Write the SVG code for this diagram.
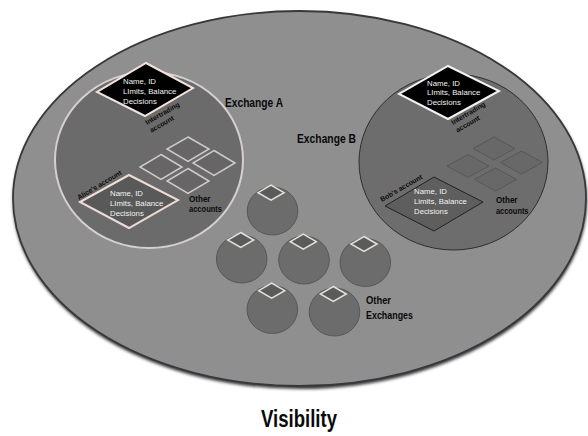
<svg xmlns="http://www.w3.org/2000/svg" width="588" height="436" viewBox="0 0 588 436">
<defs>
<filter id="shadow" x="-5%" y="-5%" width="110%" height="115%"><feGaussianBlur stdDeviation="1.5"/></filter>
<style>
.inner{font-family:"Liberation Sans",Arial,sans-serif;font-size:7.8px;fill:#f2f2f2}
.small{font-family:"Liberation Sans",Arial,sans-serif;font-size:6.9px;font-weight:bold;fill:#0a0a0a}
.lbl{font-family:"Liberation Sans Narrow","Liberation Sans",Arial,sans-serif;font-weight:bold;fill:#0a0a0a}
.acc{fill:#666;stroke:#d2caca;stroke-width:1.5}
.accB{fill:#686868;stroke:#575757;stroke-width:1}
.exc{fill:#6c6c6c;stroke:#4e4e4e;stroke-width:0.8}
.excd{fill:#5a5c5b;stroke:#e6e0dc;stroke-width:1.5}
</style>
</defs>
<g id="world">
<ellipse cx="300" cy="201" rx="287" ry="188" fill="#3a3a3a" filter="url(#shadow)"/>
<ellipse cx="299.5" cy="198.5" rx="286.5" ry="187.5" fill="#8f8f90" stroke="#38383c" stroke-width="1.8"/>
</g>
<g id="exchange-a">
<ellipse cx="149" cy="160" rx="94" ry="88" fill="#6b6b6b" stroke="#d6cfcf" stroke-width="2"/>
<polygon points="188,137 209,149 188,161.5 167,149" class="acc"/>
<polygon points="161,154.5 182,167 161,179.5 140,167" class="acc"/>
<polygon points="214,150.5 235,163 214,175.5 193,163" class="acc"/>
<polygon points="188,168.5 209,181 188,193.5 167,181" class="acc"/>
<text x="225" y="107" class="lbl" font-size="12" textLength="58" lengthAdjust="spacingAndGlyphs">Exchange A</text>
<text x="189" y="201.5" class="lbl" font-size="9.5" textLength="21.5" lengthAdjust="spacingAndGlyphs">Other</text>
<text x="189" y="212" class="lbl" font-size="9.5" textLength="33" lengthAdjust="spacingAndGlyphs">accounts</text>
</g>
<g id="intertrading-a">
<polygon points="146,63 193,88 145,116 97,92" fill="#000" stroke="#f3e3de" stroke-width="2"/>
<text class="inner"><tspan x="123" y="84">Name, ID</tspan><tspan x="123" y="93.8">LImits, Balance</tspan><tspan x="123" y="103.6">Decisions</tspan></text>
<text class="small" transform="translate(147,125) rotate(-30)"><tspan x="0" y="0">Intertrading</tspan><tspan x="0" y="9">account</tspan></text>
</g>
<g id="alice-account">
<polygon points="129,175 178,200 129,228 80,202" fill="#595959" stroke="#f0dcd6" stroke-width="2"/>
<text class="inner"><tspan x="110" y="195.5">Name, ID</tspan><tspan x="110" y="205.5">LImits, Balance</tspan><tspan x="110" y="215.5">Decisions</tspan></text>
<text class="small" transform="translate(79,200) rotate(-31)">Alice's account</text>
</g>
<g id="exchange-b">
<ellipse cx="453.5" cy="162" rx="94.5" ry="88" fill="#6d6d6d" stroke="#2e2e2e" stroke-width="1"/>
<polygon points="494,137 515,148.5 494,160 473,148.5" class="accB"/>
<polygon points="468,154.5 489,166 468,177.5 447,166" class="accB"/>
<polygon points="521.5,151 542.5,162.5 521.5,174 500.5,162.5" class="accB"/>
<polygon points="495.5,168 516.5,179.5 495.5,191 474.5,179.5" class="accB"/>
<text x="297" y="143" class="lbl" font-size="12" textLength="59" lengthAdjust="spacingAndGlyphs">Exchange B</text>
<text x="496" y="203" class="lbl" font-size="9.5" textLength="21.5" lengthAdjust="spacingAndGlyphs">Other</text>
<text x="496" y="213.5" class="lbl" font-size="9.5" textLength="32.5" lengthAdjust="spacingAndGlyphs">accounts</text>
</g>
<g id="intertrading-b">
<polygon points="448,66 499,91 448,119 399,94" fill="#000" stroke="#f2f2f2" stroke-width="2"/>
<text class="inner"><tspan x="427" y="85.5">Name, ID</tspan><tspan x="427" y="95.3">LImits, Balance</tspan><tspan x="427" y="105.1">Decisions</tspan></text>
<text class="small" transform="translate(453,125) rotate(-30.5)"><tspan x="0" y="0">Intertrading</tspan><tspan x="0" y="9">account</tspan></text>
</g>
<g id="bob-account">
<polygon points="434,177 483,202 434,231 385,206" fill="#5e5e5e" stroke="#222" stroke-width="1"/>
<text class="inner"><tspan x="414" y="194">Name, ID</tspan><tspan x="414" y="204">Limits, Balance</tspan><tspan x="414" y="214">Decisions</tspan></text>
<text class="small" transform="translate(382,202) rotate(-30)">Bob's account</text>
</g>
<g id="other-exchange-1">
<ellipse cx="272.5" cy="211" rx="25.3" ry="24" class="exc"/>
<polygon points="271,185.2 284,192.7 271,200.2 258,192.7" class="excd"/>
</g>
<g id="other-exchange-2">
<ellipse cx="241.7" cy="259" rx="25.3" ry="24" class="exc"/>
<polygon points="240.7,232.5 253.7,240 240.7,247.5 227.7,240" class="excd"/>
</g>
<g id="other-exchange-3">
<ellipse cx="304" cy="260" rx="25.3" ry="24" class="exc"/>
<polygon points="303.3,234.2 316.3,241.7 303.3,249.2 290.3,241.7" class="excd"/>
</g>
<g id="other-exchange-4">
<ellipse cx="365.3" cy="262.5" rx="25.3" ry="24" class="exc"/>
<polygon points="364,236.5 377,244 364,251.5 351,244" class="excd"/>
</g>
<g id="other-exchange-5">
<ellipse cx="272.3" cy="309.5" rx="25.3" ry="24" class="exc"/>
<polygon points="271.7,283.2 284.7,290.7 271.7,298.2 258.7,290.7" class="excd"/>
</g>
<g id="other-exchange-6">
<ellipse cx="334.5" cy="312" rx="25.3" ry="24" class="exc"/>
<polygon points="333.3,286.5 346.3,294 333.3,301.5 320.3,294" class="excd"/>
<text x="366" y="303.5" class="lbl" font-size="11.5" textLength="25" lengthAdjust="spacingAndGlyphs">Other</text>
<text x="366" y="319" class="lbl" font-size="11.5" textLength="47" lengthAdjust="spacingAndGlyphs">Exchanges</text>
</g>
<g id="connectors"/>
<g id="title">
<text x="261" y="427" class="lbl" font-size="23" textLength="76" lengthAdjust="spacingAndGlyphs">Visibility</text>
</g>
</svg>
